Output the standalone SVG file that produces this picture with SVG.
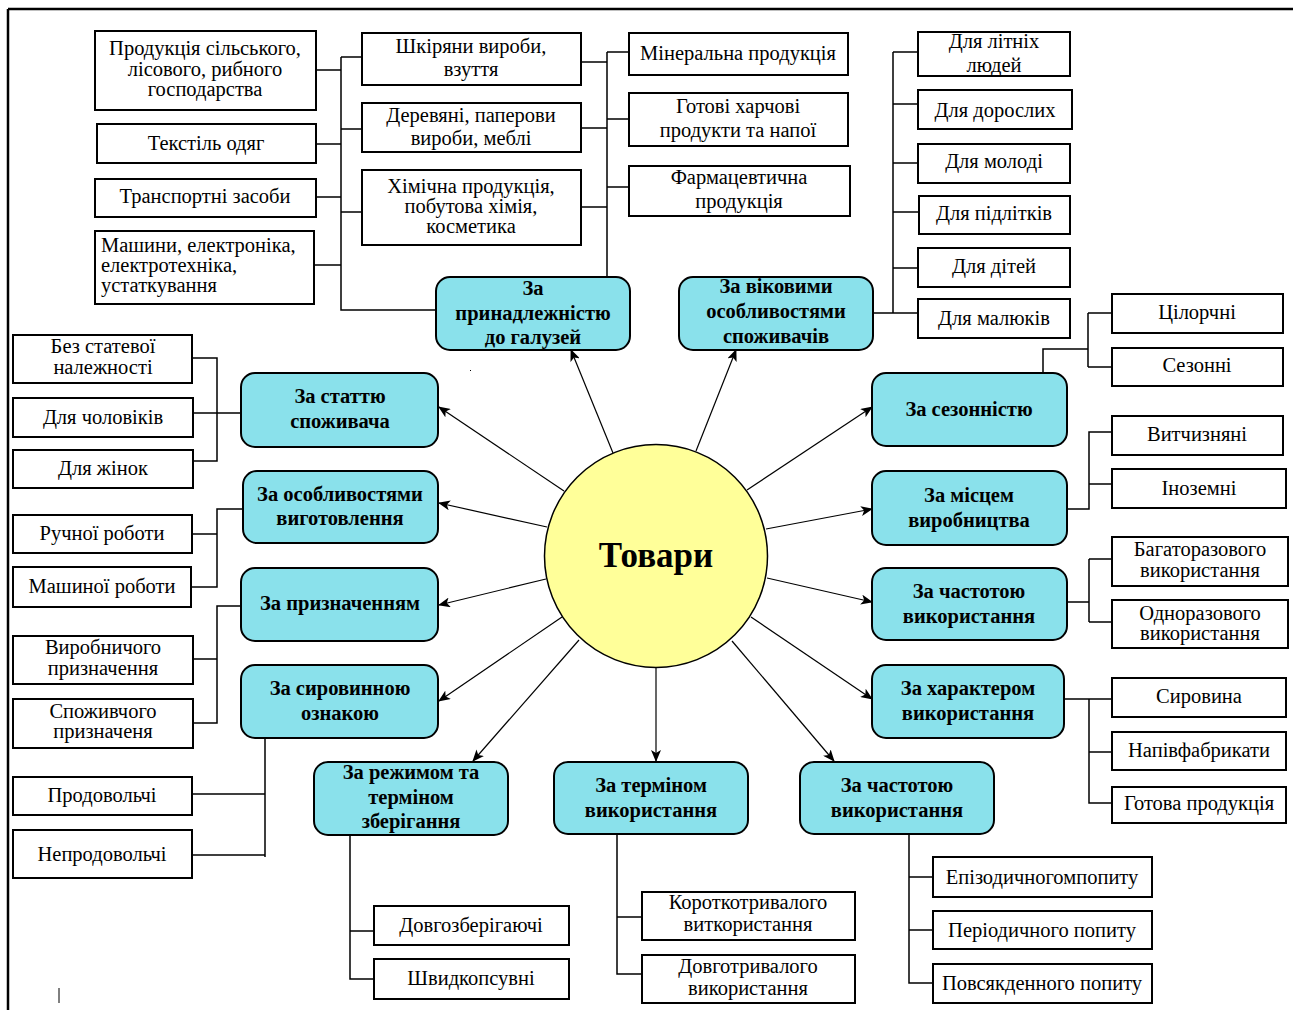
<svg xmlns="http://www.w3.org/2000/svg" width="1293" height="1010" viewBox="0 0 1293 1010">
<defs>
<marker id="ah" markerUnits="userSpaceOnUse" markerWidth="12" markerHeight="10" refX="11" refY="5" orient="auto">
<path d="M0,0 L12,5 L0,10 L3,5 z" fill="#000"/>
</marker>
<style>
.box{fill:#fff;stroke:#000;stroke-width:2}
.node{fill:#8ae1eb;stroke:#000;stroke-width:2}
.t{font-family:"Liberation Serif","Times New Roman",serif;font-size:20.5px;fill:#000;text-anchor:middle}
.tl{text-anchor:start}
.b{font-family:"Liberation Serif","Times New Roman",serif;font-size:20.5px;font-weight:bold;fill:#000;text-anchor:middle}
.c{fill:none;stroke:#000;stroke-width:1.5}
.a{fill:none;stroke:#000;stroke-width:1.2;marker-end:url(#ah)}
</style>
</defs>
<rect width="1293" height="1010" fill="#fff"/>
<g id="frame">
<path d="M8,9 H1293 M8,9 V1010" fill="none" stroke="#000" stroke-width="2.5"/>
<path d="M59,988 V1003" stroke="#000" stroke-width="1"/>
<path d="M470,371 l1,-1" stroke="#000" stroke-width="1"/>
</g>

<g id="connectors">
<path class="c" d="M341,57 V310 H436 M316,70 H341 M316,144 H341 M316,197 H341 M314,265 H341 M341,57 H362 M341,129 H362 M341,212 H362"/>
<path class="c" d="M607,52 V277 M581,62 H607 M581,128 H607 M581,207 H607 M607,52 H629 M607,119 H629 M607,187 H629"/>
<path class="c" d="M893,52 V313 M873,313 H918 M893,52 H918 M893,104 H918 M893,163 H918 M893,212 H919 M893,268 H918"/>
<path class="c" d="M1043,373 V349 H1088 M1088,313 V367 M1088,313 H1112 M1088,367 H1112"/>
<path class="c" d="M1067,509 H1089 V432 H1112 M1089,484 H1112"/>
<path class="c" d="M1067,602 H1089 M1089,559 V622 M1089,559 H1112 M1089,622 H1112"/>
<path class="c" d="M1064,699 H1112 M1089,699 V803 H1112 M1089,752 H1112"/>
<path class="c" d="M909,835 V983 H933 M909,877 H933 M909,930 H933"/>
<path class="c" d="M617,835 V974 H642 M617,917 H642"/>
<path class="c" d="M350,833 V979 H374 M350,931 H374"/>
<path class="c" d="M193,358 H217 V461 H193 M193,413 H241"/>
<path class="c" d="M243,509 H217 V587 H191 M192,534 H217"/>
<path class="c" d="M241,606 H217 V723 H193 M193,659 H217"/>
<path class="c" d="M265,738 V857 M192,794 H265 M192,855 H265"/>
<path class="a" d="M613,453 L571,350"/>
<path class="a" d="M696,451 L736,350"/>
<path class="a" d="M564,491 L439,407"/>
<path class="a" d="M547,527 L439,503"/>
<path class="a" d="M546,579 L439,605"/>
<path class="a" d="M562,617 L439,701"/>
<path class="a" d="M579,640 L473,761"/>
<path class="a" d="M656,668 L656,761"/>
<path class="a" d="M732,641 L834,761"/>
<path class="a" d="M751,617 L872,699"/>
<path class="a" d="M767,578 L872,602"/>
<path class="a" d="M766,529 L872,509"/>
<path class="a" d="M747,490 L872,407"/>
</g>

<g id="center">
<circle cx="656" cy="556" r="111.5" fill="#ffff99" stroke="#000" stroke-width="1.5"/>
<text x="656" y="567" font-family="'Liberation Serif','Times New Roman',serif" font-size="35" font-weight="bold" text-anchor="middle">Товари</text>
</g>

<g id="n-industry"><rect class="node" x="436" y="277" width="194" height="73" rx="14"/><text class="b"><tspan x="533" y="295">За</tspan><tspan x="533" y="320">принадлежністю</tspan><tspan x="533" y="344">до галузей</tspan></text></g>
<g id="n-age"><rect class="node" x="679" y="277" width="194" height="73" rx="14"/><text class="b"><tspan x="776" y="293">За віковими</tspan><tspan x="776" y="318">особливостями</tspan><tspan x="776" y="343">споживачів</tspan></text></g>
<g id="n-gender"><rect class="node" x="241" y="373" width="197" height="74" rx="14"/><text class="b"><tspan x="340" y="403">За статтю</tspan><tspan x="340" y="428">споживача</tspan></text></g>
<g id="n-manuf"><rect class="node" x="243" y="471" width="195" height="72" rx="14"/><text class="b"><tspan x="340" y="501">За особливостями</tspan><tspan x="340" y="525">виготовлення</tspan></text></g>
<g id="n-purpose"><rect class="node" x="241" y="568" width="197" height="73" rx="14"/><text class="b" x="340" y="610">За призначенням</text></g>
<g id="n-raw"><rect class="node" x="241" y="665" width="197" height="73" rx="14"/><text class="b"><tspan x="340" y="695">За сировинною</tspan><tspan x="340" y="720">ознакою</tspan></text></g>
<g id="n-storage"><rect class="node" x="314" y="762" width="194" height="73" rx="14"/><text class="b"><tspan x="411" y="779">За режимом та</tspan><tspan x="411" y="804">терміном</tspan><tspan x="411" y="828">зберігання</tspan></text></g>
<g id="n-term"><rect class="node" x="554" y="762" width="194" height="72" rx="14"/><text class="b"><tspan x="651" y="792">За терміном</tspan><tspan x="651" y="817">використання</tspan></text></g>
<g id="n-freq2"><rect class="node" x="800" y="762" width="194" height="72" rx="14"/><text class="b"><tspan x="897" y="792">За частотою</tspan><tspan x="897" y="817">використання</tspan></text></g>
<g id="n-character"><rect class="node" x="872" y="665" width="192" height="73" rx="14"/><text class="b"><tspan x="968" y="695">За характером</tspan><tspan x="968" y="720">використання</tspan></text></g>
<g id="n-freq1"><rect class="node" x="872" y="568" width="195" height="72" rx="14"/><text class="b"><tspan x="969" y="598">За частотою</tspan><tspan x="969" y="623">використання</tspan></text></g>
<g id="n-place"><rect class="node" x="872" y="471" width="195" height="74" rx="14"/><text class="b"><tspan x="969" y="502">За місцем</tspan><tspan x="969" y="527">виробництва</tspan></text></g>
<g id="n-season"><rect class="node" x="872" y="373" width="195" height="73" rx="14"/><text class="b" x="969" y="416">За сезонністю</text></g>

<g id="l-agri"><rect class="box" x="95" y="31" width="221" height="79"/><text class="t"><tspan x="205" y="55">Продукція сільського,</tspan><tspan x="205" y="76">лісового, рибного</tspan><tspan x="205" y="96">господарства</tspan></text></g>
<g id="l-textile"><rect class="box" x="97" y="124" width="219" height="39"/><text class="t" x="206" y="150">Текстіль одяг</text></g>
<g id="l-transport"><rect class="box" x="95" y="179" width="221" height="38"/><text class="t" x="205" y="203">Транспортні засоби</text></g>
<g id="l-machines"><rect class="box" x="95" y="231" width="219" height="73"/><text class="t tl"><tspan x="101" y="252">Машини, електроніка,</tspan><tspan x="101" y="272">електротехніка,</tspan><tspan x="101" y="292">устаткування</tspan></text></g>
<g id="l-leather"><rect class="box" x="362" y="33" width="219" height="52"/><text class="t"><tspan x="471" y="53">Шкіряни вироби,</tspan><tspan x="471" y="76">взуття</tspan></text></g>
<g id="l-wood"><rect class="box" x="362" y="103" width="219" height="49"/><text class="t"><tspan x="471" y="122">Деревяні, паперови</tspan><tspan x="471" y="145">вироби, меблі</tspan></text></g>
<g id="l-chem"><rect class="box" x="362" y="170" width="219" height="75"/><text class="t"><tspan x="471" y="193">Хімічна продукція,</tspan><tspan x="471" y="213">побутова хімія,</tspan><tspan x="471" y="233">косметика</tspan></text></g>
<g id="l-mineral"><rect class="box" x="629" y="33" width="219" height="42"/><text class="t" x="738" y="60">Мінеральна продукція</text></g>
<g id="l-food"><rect class="box" x="629" y="93" width="219" height="53"/><text class="t"><tspan x="738" y="113">Готові харчові</tspan><tspan x="738" y="137">продукти та напої</tspan></text></g>
<g id="l-pharma"><rect class="box" x="629" y="166" width="221" height="50"/><text class="t"><tspan x="739" y="184">Фармацевтична</tspan><tspan x="739" y="208">продукція</tspan></text></g>

<g id="l-old"><rect class="box" x="918" y="32" width="152" height="44"/><text class="t"><tspan x="994" y="48">Для літніх</tspan><tspan x="994" y="72">людей</tspan></text></g>
<g id="l-adult"><rect class="box" x="918" y="90" width="154" height="39"/><text class="t" x="995" y="117">Для дорослих</text></g>
<g id="l-youth"><rect class="box" x="918" y="144" width="152" height="39"/><text class="t" x="994" y="168">Для молоді</text></g>
<g id="l-teen"><rect class="box" x="919" y="196" width="151" height="38"/><text class="t" x="994" y="220">Для підлітків</text></g>
<g id="l-kids"><rect class="box" x="918" y="248" width="152" height="39"/><text class="t" x="994" y="273">Для дітей</text></g>
<g id="l-baby"><rect class="box" x="918" y="299" width="152" height="39"/><text class="t" x="994" y="325">Для малюків</text></g>

<g id="l-yearround"><rect class="box" x="1112" y="294" width="171" height="39"/><text class="t" x="1197" y="319">Цілорчні</text></g>
<g id="l-seasonal"><rect class="box" x="1112" y="348" width="171" height="38"/><text class="t" x="1197" y="372">Сезонні</text></g>
<g id="l-domestic"><rect class="box" x="1112" y="416" width="171" height="39"/><text class="t" x="1197" y="441">Витчизняні</text></g>
<g id="l-foreign"><rect class="box" x="1112" y="469" width="174" height="39"/><text class="t" x="1199" y="495">Іноземні</text></g>
<g id="l-reusable"><rect class="box" x="1112" y="537" width="176" height="49"/><text class="t"><tspan x="1200" y="556">Багаторазового</tspan><tspan x="1200" y="577">використання</tspan></text></g>
<g id="l-single"><rect class="box" x="1112" y="600" width="176" height="48"/><text class="t"><tspan x="1200" y="620">Одноразового</tspan><tspan x="1200" y="640">використання</tspan></text></g>
<g id="l-rawm"><rect class="box" x="1112" y="678" width="174" height="39"/><text class="t" x="1199" y="703">Сировина</text></g>
<g id="l-semi"><rect class="box" x="1112" y="732" width="174" height="38"/><text class="t" x="1199" y="757">Напівфабрикати</text></g>
<g id="l-finished"><rect class="box" x="1112" y="787" width="174" height="36"/><text class="t" x="1199" y="810">Готова продукція</text></g>

<g id="l-episodic"><rect class="box" x="933" y="857" width="219" height="40"/><text class="t" x="1042" y="884">Епізодичногомпопиту</text></g>
<g id="l-periodic"><rect class="box" x="933" y="911" width="219" height="38"/><text class="t" x="1042" y="937">Періодичного попиту</text></g>
<g id="l-daily"><rect class="box" x="933" y="964" width="219" height="39"/><text class="t" x="1042" y="990">Повсякденного попиту</text></g>
<g id="l-short"><rect class="box" x="642" y="892" width="213" height="48"/><text class="t"><tspan x="748" y="909">Короткотривалого</tspan><tspan x="748" y="931">виткористання</tspan></text></g>
<g id="l-long"><rect class="box" x="642" y="955" width="213" height="48"/><text class="t"><tspan x="748" y="973">Довготривалого</tspan><tspan x="748" y="995">використання</tspan></text></g>
<g id="l-longstore"><rect class="box" x="374" y="906" width="195" height="39"/><text class="t" x="471" y="932">Довгозберігаючі</text></g>
<g id="l-perish"><rect class="box" x="374" y="959" width="195" height="40"/><text class="t" x="471" y="985">Швидкопсувні</text></g>

<g id="l-unisex"><rect class="box" x="13" y="335" width="179" height="48"/><text class="t"><tspan x="103" y="353">Без статевої</tspan><tspan x="103" y="374">належності</tspan></text></g>
<g id="l-men"><rect class="box" x="13" y="398" width="180" height="39"/><text class="t" x="103" y="424">Для чоловіків</text></g>
<g id="l-women"><rect class="box" x="13" y="450" width="180" height="38"/><text class="t" x="103" y="475">Для жінок</text></g>
<g id="l-hand"><rect class="box" x="13" y="515" width="179" height="38"/><text class="t" x="102" y="540">Ручної роботи</text></g>
<g id="l-machine"><rect class="box" x="13" y="567" width="178" height="40"/><text class="t" x="102" y="593">Машиної роботи</text></g>
<g id="l-industrial"><rect class="box" x="13" y="636" width="180" height="48"/><text class="t"><tspan x="103" y="654">Виробничого</tspan><tspan x="103" y="675">призначення</tspan></text></g>
<g id="l-consumer"><rect class="box" x="13" y="699" width="180" height="49"/><text class="t"><tspan x="103" y="718">Споживчого</tspan><tspan x="103" y="738">призначеня</tspan></text></g>
<g id="l-foodstuff"><rect class="box" x="13" y="777" width="179" height="38"/><text class="t" x="102" y="802">Продовольчі</text></g>
<g id="l-nonfood"><rect class="box" x="13" y="830" width="179" height="48"/><text class="t" x="102" y="861">Непродовольчі</text></g>
</svg>
